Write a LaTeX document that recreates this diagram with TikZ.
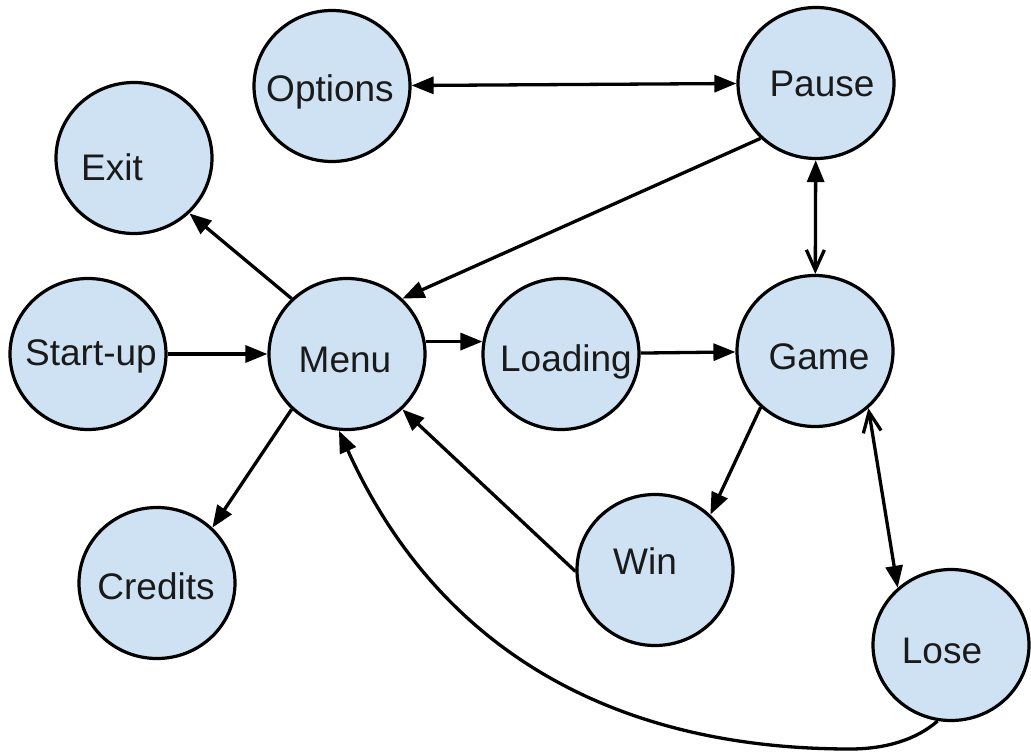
\documentclass[tikz,border=0pt]{standalone}
\usepackage{fontspec}
\setmainfont{Liberation Sans}
\usetikzlibrary{arrows.meta,shapes.geometric}
\definecolor{stfill}{HTML}{CFE2F3}
\definecolor{txt}{HTML}{1A1A1A}
\tikzset{
  st/.style={ellipse, draw=black, fill=stfill, line width=3.2pt, inner sep=0pt,
    minimum width=156pt, minimum height=151pt},
  lbl/.style={font=\fontsize{37}{44}\selectfont, text=txt, inner sep=0pt,
    text height=26.5pt, text depth=0pt},
  conn/.style={line width=3.3pt, draw=black},
  tipf/.tip={Triangle[length=22pt,width=17pt]},
  tipo/.tip={Straight Barb[length=20pt,width=18pt,line width=3.3pt]},
  arr/.style={conn, -tipf},
  barr/.style={conn, tipf-tipf},
}
\begin{document}
\begin{tikzpicture}[x=1pt,y=-1pt]
\useasboundingbox[fill=white] (0,0) rectangle (1031,754);
\node[st, label={[lbl,xshift=-2pt,yshift=-2pt]center:Options}] (options) at (332,86) {};
\node[st, label={[lbl,xshift=6pt,yshift=0pt]center:Pause}] (pause) at (816,83) {};
\node[st, label={[lbl,xshift=-22pt,yshift=-9pt]center:Exit}] (exit) at (134,158) {};
\node[st, label={[lbl,xshift=3pt,yshift=2pt]center:Start-up}] (startup) at (88,354) {};
\node[st, label={[lbl,xshift=-2pt,yshift=-5pt]center:Menu}] (menu) at (347,354) {};
\node[st, label={[lbl,xshift=5pt,yshift=-4pt]center:Loading}] (loading) at (561,354) {};
\node[st, label={[lbl,xshift=4pt,yshift=-5pt]center:Game}] (game) at (815,351) {};
\node[st, label={[lbl,xshift=-10pt,yshift=9pt]center:Win}] (win) at (655,570) {};
\node[st, label={[lbl,xshift=-1pt,yshift=-3pt]center:Credits}] (credits) at (157,583) {};
\node[st, label={[lbl,xshift=-9pt,yshift=-5pt]center:Lose}] (lose) at (951,645) {};

\coordinate (cb) at (850,749);

\draw[barr] (options) -- (pause);
\draw[arr] (pause.225) -- (menu.45);
\draw[conn, tipf-tipo] (pause) -- (game);
\draw[arr] (menu.135) -- (exit.-45);
\draw[arr] (startup) -- (menu);
\draw[arr] (menu.9) -- (loading.171);
\draw[arr] (loading) -- (game);
\draw[arr] (menu.225) -- (credits.45);
\draw[arr] (win.181) -- (menu.-45);
\draw[arr] (game.226) -- (win.45);
\draw[conn, tipo-tipf] (game.-47) -- (lose.133);
\draw[arr] (lose.260) .. controls (916,740) and (885,749) .. (cb)
  .. controls (614,749) and (438,650) .. (menu.264);
\end{tikzpicture}
\end{document}
